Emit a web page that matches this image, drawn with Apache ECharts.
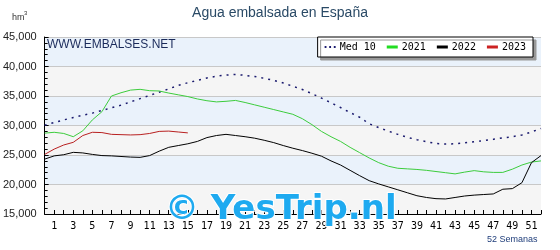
<!DOCTYPE html>
<html>
<head>
<meta charset="utf-8">
<script src="https://cdn.jsdelivr.net/npm/echarts@6/dist/echarts.min.js"></script>
<style>html,body{margin:0;padding:0;background:#fff}#c{width:560px;height:250px}</style>
</head>
<body>
<div id="c"></div>
<script>
const weeks = [0,1,2,3,4,5,6,7,8,9,10,11,12,13,14,15,16,17,18,19,20,21,22,23,24,25,26,27,28,29,30,31,32,33,34,35,36,37,38,39,40,41,42,43,44,45,46,47,48,49,50,51,52];
const med10 = [30050,30500,30950,31350,31750,32100,32550,33000,33450,34000,34550,35100,35650,36200,36800,37250,37650,38050,38350,38550,38650,38500,38300,38000,37650,37200,36650,36100,35400,34650,33850,33050,32200,31400,30300,29650,29050,28500,28000,27600,27250,26950,26850,26900,27050,27250,27450,27650,27900,28100,28400,28900,29500];
const y2021 = [28700,28850,28650,28100,29100,30950,32340,35000,35550,36000,36130,35900,35850,35500,35200,34900,34500,34200,34000,34100,34250,33900,33500,33100,32700,32300,31900,31150,30150,29000,28100,27300,26300,25400,24500,23700,23100,22750,22650,22550,22400,22200,22000,21800,22100,22350,22150,22050,22050,22600,23300,23800,24000];
const y2022 = [24300,24850,25050,25450,25350,25100,24900,24850,24750,24650,24600,24900,25650,26300,26600,26900,27300,27950,28300,28500,28300,28100,27850,27500,27100,26600,26150,25750,25300,24800,24000,23300,22400,21500,20650,20100,19600,19100,18600,18100,17800,17600,17550,17800,18050,18200,18300,18400,19200,19300,20300,23700,24900];
const y2023 = [25100,26000,26700,27150,28300,28850,28800,28500,28450,28400,28450,28650,29000,29050,28900,28750];
const seriesNames = ['Med 10','2021','2022','2023'];
const yTicks = [15000,20000,25000,30000,35000,40000,45000];
const titleText = 'Agua embalsada en España';
const unitText = 'hm';
const siteText = 'WWW.EMBALSES.NET';
const weeksText = '52 Semanas';
const watermark = '© YesTrip.nl';

const pair = (arr) => arr.map((v, i) => [weeks[i], v]);
const chart = echarts.init(document.getElementById('c'), null, {renderer: 'canvas'});
const sans = 'Liberation Sans, Arial, sans-serif';
const mono = 'DejaVu Sans Mono, monospace';
chart.setOption({
  animation: false,
  backgroundColor: '#fff',
  title: {
    text: titleText, left: 'center', top: 1,
    textStyle: {fontSize: 14, fontWeight: 'normal', color: '#2a4a66', fontFamily: sans}
  },
  legend: {
    right: 27, top: 37, orient: 'horizontal',
    backgroundColor: '#fff', borderColor: '#000', borderWidth: 1, borderRadius: 0,
    shadowColor: '#999', shadowOffsetX: 3, shadowOffsetY: 3, shadowBlur: 0,
    padding: [5, 7], itemGap: 11, itemWidth: 11, itemHeight: 3,
    textStyle: {fontFamily: mono, fontSize: 10, color: '#000', padding: [0,0,0,-1]},
    data: [
      {name: seriesNames[0], icon: 'path://M0,0h2v2h-2z M5,0h2v2h-2z M10,0h2v2h-2z', itemStyle: {color: '#1a1a6e'}},
      {name: seriesNames[1], icon: 'rect'},
      {name: seriesNames[2], icon: 'rect'},
      {name: seriesNames[3], icon: 'rect'}
    ]
  },
  grid: {left: 41, right: 19, top: 37, bottom: 36},
  xAxis: {
    type: 'value', min: 0, max: 52, interval: 1,
    axisLine: {show: true, lineStyle: {color: '#000', width: 1}},
    axisTick: {show: true, inside: true, length: 4, lineStyle: {color: '#000'}},
    axisLabel: {
      margin: 7, color: '#000', fontFamily: mono, fontSize: 10,
      formatter: (v) => (v % 2 === 1 ? String(v) : '')
    },
    splitLine: {show: false}
  },
  yAxis: {
    type: 'value', min: yTicks[0], max: yTicks[yTicks.length - 1], interval: yTicks[1] - yTicks[0],
    axisLine: {show: true, lineStyle: {color: '#000', width: 1}},
    axisTick: {show: true, inside: true, length: 4, lineStyle: {color: '#000'}},
    minorTick: {show: true, splitNumber: 5, length: 3, lineStyle: {color: '#000'}},
    axisLabel: {margin: 8, color: '#222', fontFamily: sans, fontSize: 11},
    splitLine: {show: true, lineStyle: {color: '#c8c8c8', width: 1}},
    splitArea: {show: true, areaStyle: {color: ['#f5f5f5', '#eaf2fb']}}
  },
  graphic: [
    {type: 'text', left: 12, top: 13, z: 10, style: {text: unitText, font: '9px ' + sans, fill: '#333'}},
    {type: 'text', left: 24, top: 10, z: 10, style: {text: '3', font: '6px ' + sans, fill: '#333'}},
    {type: 'text', left: 47, top: 39, z: 10, style: {text: siteText, font: '12px ' + sans, fill: '#1a2a5a'}},
    {type: 'text', left: 487, top: 235, z: 10, style: {text: weeksText, font: '9px ' + sans, fill: '#1f3d7a'}},
    {type: 'text', left: 164, top: 192, z: 100, style: {text: watermark, font: 'bold 34px DejaVu Sans, sans-serif', fill: '#1eaaf0', stroke: '#fff', lineWidth: 2}}
  ],
  series: [
    {name: seriesNames[0], type: 'line', data: pair(med10), showSymbol: false, symbol: 'none',
      lineStyle: {color: '#1a1a6e', width: 1.5, type: [2, 5]}, itemStyle: {color: '#1a1a6e'}},
    {name: seriesNames[1], type: 'line', data: pair(y2021), showSymbol: false, symbol: 'none',
      lineStyle: {color: '#3ccc3c', width: 1}, itemStyle: {color: '#22dd22'}},
    {name: seriesNames[2], type: 'line', data: pair(y2022), showSymbol: false, symbol: 'none',
      lineStyle: {color: '#000', width: 1}, itemStyle: {color: '#000'}},
    {name: seriesNames[3], type: 'line', data: pair(y2023), showSymbol: false, symbol: 'none',
      lineStyle: {color: '#b82020', width: 1}, itemStyle: {color: '#cc2222'}}
  ]
});
</script>
</body>
</html>
